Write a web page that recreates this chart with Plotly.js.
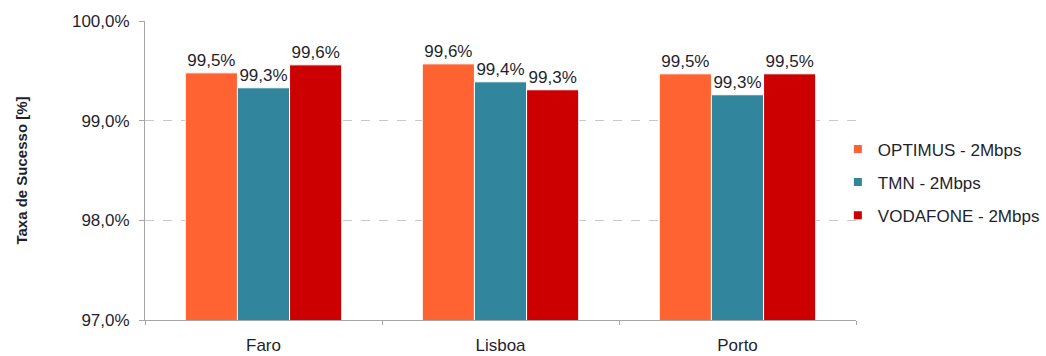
<!DOCTYPE html>
<html>
<head>
<meta charset="utf-8">
<script src="https://cdn.plot.ly/plotly-3.0.1.min.js"></script>
<style>html,body{margin:0;padding:0;background:#fff;}#chart{width:1046px;height:356px;}</style>
</head>
<body>
<div id="chart"></div>
<script>
const categories = ["Faro", "Lisboa", "Porto"];
const seriesNames = ["OPTIMUS - 2Mbps", "TMN - 2Mbps", "VODAFONE - 2Mbps"];
const optimus = [99.48, 99.57, 99.47];
const tmn = [99.33, 99.39, 99.26];
const vodafone = [99.56, 99.31, 99.47];
const yTickVals = [97, 98, 99, 100];
const yTickLabels = ["97,0%", "98,0%", "99,0%", "100,0%"];
const colors = ["#FF6331", "#31859C", "#CC0000"];

const seriesValues = [optimus, tmn, vodafone];
const fontFamily = "Liberation Sans, Arial, sans-serif";
const textColor = "#1f1f2e";
const fmt = v => v.toFixed(1).replace(".", ",") + "%";

const traces = [];
seriesValues.forEach((vals, i) => {
  traces.push({
    type: "bar",
    x: categories,
    y: vals,
    name: seriesNames[i],
    showlegend: false,
    marker: {color: colors[i], line: {color: "#ffffff", width: 1}},
    text: vals.map(fmt),
    textposition: "outside",
    constraintext: "none",
    cliponaxis: false,
    textfont: {family: fontFamily, size: 17, color: textColor},
    hoverinfo: "skip"
  });
});
seriesValues.forEach((vals, i) => {
  traces.push({
    type: "scatter",
    mode: "markers",
    x: [null],
    y: [null],
    name: seriesNames[i],
    legendgroup: "g" + i,
    marker: {color: colors[i], symbol: "square", size: 8},
    showlegend: true
  });
});

const layout = {
  width: 1046,
  height: 356,
  margin: {l: 145, r: 190, t: 21, b: 36, autoexpand: false},
  paper_bgcolor: "#ffffff",
  plot_bgcolor: "#ffffff",
  font: {family: fontFamily, size: 17, color: textColor},
  barmode: "group",
  bargap: 0.34,
  bargroupgap: 0,
  showlegend: true,
  legend: {
    x: 0.9745, xanchor: "left",
    y: 0.46, yanchor: "middle",
    font: {size: 17, color: textColor},
    tracegroupgap: 8,
    itemwidth: 30,
    bgcolor: "rgba(0,0,0,0)"
  },
  xaxis: {
    type: "category",
    showline: true,
    linecolor: "#a6a6a6",
    linewidth: 1,
    ticks: "outside",
    tickson: "boundaries",
    ticklen: 4,
    tickcolor: "#a6a6a6",
    ticklabelstandoff: 10,
    showgrid: false,
    tickfont: {size: 17, color: textColor}
  },
  yaxis: {
    range: [97, 100],
    tickvals: yTickVals,
    ticktext: yTickLabels,
    showline: true,
    linecolor: "#a6a6a6",
    linewidth: 1,
    ticks: "outside",
    ticklen: 5,
    tickcolor: "#a6a6a6",
    ticklabelstandoff: 6,
    showgrid: true,
    gridcolor: "#c8c8c8",
    griddash: "dash",
    gridwidth: 1,
    zeroline: false,
    tickfont: {size: 17, color: textColor},
    title: {text: "Taxa de Sucesso [%]", font: {size: 15, color: textColor, weight: "bold"}, standoff: 40}
  }
};

Plotly.newPlot("chart", traces, layout, {displayModeBar: false, staticPlot: true});
</script>
</body>
</html>
